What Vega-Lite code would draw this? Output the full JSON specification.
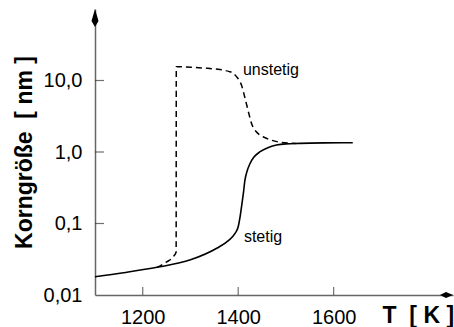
{
  "$schema": "https://vega.github.io/schema/vega-lite/v6.json",
  "width": 358,
  "height": 286,
  "autosize": {"type": "none"},
  "padding": {"left": 95, "top": 9, "right": 1, "bottom": 32},
  "config": {"view": {"stroke": null}, "font": "Liberation Sans"},
  "datasets": {
    "stetig": [
      {"T": 1100, "v": 0.018},
      {"T": 1160, "v": 0.0205},
      {"T": 1230, "v": 0.0244},
      {"T": 1300, "v": 0.031},
      {"T": 1355, "v": 0.045},
      {"T": 1380, "v": 0.058},
      {"T": 1393, "v": 0.072},
      {"T": 1400, "v": 0.09},
      {"T": 1404, "v": 0.125},
      {"T": 1407, "v": 0.172},
      {"T": 1411, "v": 0.27},
      {"T": 1414, "v": 0.4},
      {"T": 1419, "v": 0.55},
      {"T": 1425, "v": 0.695},
      {"T": 1433, "v": 0.85},
      {"T": 1446, "v": 1.01},
      {"T": 1462, "v": 1.15},
      {"T": 1480, "v": 1.25},
      {"T": 1500, "v": 1.3},
      {"T": 1529, "v": 1.32},
      {"T": 1580, "v": 1.34},
      {"T": 1640, "v": 1.35}
    ],
    "unstetig": [
      {"i": 1, "T": 1230, "v": 0.0244},
      {"i": 2, "T": 1250, "v": 0.029},
      {"i": 3, "T": 1265, "v": 0.035},
      {"i": 4, "T": 1270, "v": 0.04},
      {"i": 5, "T": 1270.3, "v": 15.6},
      {"i": 6, "T": 1300, "v": 15.3},
      {"i": 7, "T": 1330, "v": 14.9},
      {"i": 8, "T": 1362, "v": 14.2},
      {"i": 9, "T": 1380, "v": 13.4},
      {"i": 10, "T": 1390, "v": 12.6},
      {"i": 11, "T": 1398, "v": 11.0},
      {"i": 12, "T": 1403, "v": 9.8},
      {"i": 13, "T": 1407, "v": 8.6},
      {"i": 14, "T": 1412, "v": 6.5},
      {"i": 15, "T": 1418, "v": 4.5},
      {"i": 16, "T": 1423, "v": 3.3},
      {"i": 17, "T": 1428, "v": 2.5},
      {"i": 18, "T": 1437, "v": 1.95},
      {"i": 19, "T": 1445, "v": 1.74},
      {"i": 20, "T": 1453, "v": 1.62},
      {"i": 21, "T": 1470, "v": 1.46},
      {"i": 22, "T": 1487, "v": 1.37},
      {"i": 23, "T": 1505, "v": 1.33},
      {"i": 24, "T": 1522, "v": 1.32}
    ],
    "labels": [
      {"T": 1410, "v": 11.9, "text": "unstetig"},
      {"T": 1412, "v": 0.055, "text": "stetig"}
    ],
    "xticks": [{"T": 1200, "v": 0.01}, {"T": 1400, "v": 0.01}, {"T": 1600, "v": 0.01}],
    "yticks": [{"T": 1100, "v": 0.1}, {"T": 1100, "v": 1}, {"T": 1100, "v": 10}],
    "arrowY": [{"T": 1100, "v": 100}],
    "arrowX": [{"T": 1850, "v": 0.01}]
  },
  "layer": [
    {
      "data": {"name": "stetig"},
      "mark": {"type": "line", "interpolate": "monotone", "color": "#000", "strokeWidth": 1.6},
      "encoding": {
        "x": {
          "field": "T", "type": "quantitative",
          "scale": {"domain": [1100, 1850], "nice": false, "zero": false},
          "axis": {
            "values": [1200, 1400, 1600], "format": "d", "grid": false, "ticks": false, "labelPadding": 12,
            "labelFontSize": 20, "labelColor": "#000", "labelFlush": false,
            "domainColor": "#666", "domainWidth": 1.5,
            "title": "T\u00a0\u00a0[\u00a0K\u00a0]", "titleFontSize": 23, "titleFontWeight": "bold", "titleColor": "#000",
            "titleX": 287, "titleY": 27, "titleAlign": "left", "titleBaseline": "alphabetic"
          }
        },
        "y": {
          "field": "v", "type": "quantitative",
          "scale": {"type": "log", "domain": [0.01, 100], "nice": false},
          "axis": {
            "values": [0.01, 0.1, 1, 10], "grid": false, "ticks": false, "labelPadding": 13,
            "labelFontSize": 20, "labelColor": "#000", "labelFlush": false,
            "labelExpr": "datum.value >= 9 ? '10,0' : datum.value >= 0.9 ? '1,0' : datum.value >= 0.09 ? '0,1' : '0,01'",
            "domainColor": "#666", "domainWidth": 1.5,
            "title": "Korngröße\u00a0\u00a0[\u00a0nm\u00a0]", "titleFontSize": 23, "titleFontWeight": "bold", "titleColor": "#000",
            "titleX": -64, "titleY": 143, "titleAngle": -90, "titleAlign": "center", "titleBaseline": "alphabetic"
          }
        }
      }
    },
    {
      "data": {"name": "unstetig"},
      "mark": {"type": "line", "interpolate": "monotone", "color": "#000", "strokeWidth": 1.5, "strokeDash": [6, 4]},
      "encoding": {
        "x": {"field": "T", "type": "quantitative"},
        "y": {"field": "v", "type": "quantitative"},
        "order": {"field": "i", "type": "quantitative"}
      }
    },
    {
      "data": {"name": "xticks"},
      "mark": {"type": "tick", "orient": "vertical", "size": 16, "thickness": 1.2, "color": "#333", "clip": true},
      "encoding": {
        "x": {"field": "T", "type": "quantitative"},
        "y": {"field": "v", "type": "quantitative"}
      }
    },
    {
      "data": {"name": "yticks"},
      "mark": {"type": "tick", "orient": "horizontal", "size": 18, "thickness": 1.2, "color": "#333", "clip": true},
      "encoding": {
        "x": {"field": "T", "type": "quantitative"},
        "y": {"field": "v", "type": "quantitative"}
      }
    },
    {
      "data": {"name": "labels"},
      "mark": {"type": "text", "align": "left", "baseline": "alphabetic", "fontSize": 16, "color": "#000"},
      "encoding": {
        "x": {"field": "T", "type": "quantitative"},
        "y": {"field": "v", "type": "quantitative"},
        "text": {"field": "text"}
      }
    },
    {
      "data": {"name": "arrowY"},
      "mark": {"type": "point", "shape": "M0,0 L0.35,1.2 L0,1.8 L-0.35,1.2 Z", "size": 400, "filled": true, "color": "#000", "opacity": 1, "clip": false},
      "encoding": {
        "x": {"field": "T", "type": "quantitative"},
        "y": {"field": "v", "type": "quantitative"}
      }
    },
    {
      "data": {"name": "arrowX"},
      "mark": {"type": "point", "shape": "M0,0 L-0.7,-0.3 L-1.3,0 L-0.7,0.3 Z", "size": 400, "filled": true, "color": "#000", "opacity": 1, "clip": false},
      "encoding": {
        "x": {"field": "T", "type": "quantitative"},
        "y": {"field": "v", "type": "quantitative"}
      }
    }
  ]
}
